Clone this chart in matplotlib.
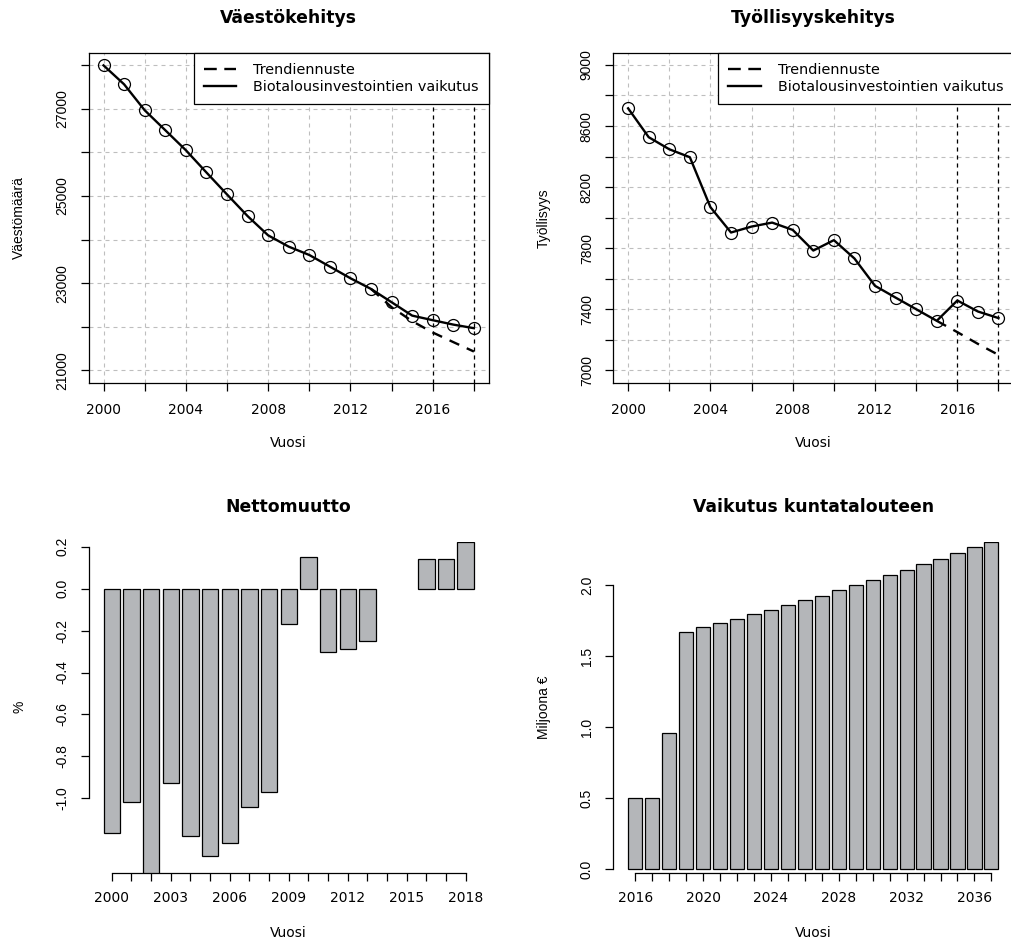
import matplotlib
matplotlib.use('Agg')
import matplotlib.pyplot as plt
from matplotlib.lines import Line2D
import numpy as np

# ---------------- data ----------------
years_pop = list(range(2000, 2019))
population = [27990, 27556, 26962, 26505, 26047, 25537, 25034, 24538, 24096, 23837,
              23646, 23380, 23113, 22868, 22564, 22257, 22152, 22051, 21969]
trend_years_pop = [2013, 2014, 2015, 2016, 2017, 2018]
trend_pop = [22868, 22450, 22130, 21870, 21650, 21434]

years_emp = list(range(2000, 2019))
employment = [8716, 8527, 8448, 8396, 8069, 7903, 7942, 7968, 7920, 7785,
              7853, 7733, 7554, 7477, 7401, 7325, 7458, 7386, 7343]
trend_years_emp = [2015, 2016, 2017, 2018]
trend_emp = [7325, 7251, 7174, 7102]

marker_years = [2016, 2018]

net_years = list(range(2000, 2019))
net_migration = [-1.164, -1.019, -1.45, -0.925, -1.180, -1.273, -1.215, -1.040, -0.968, -0.169,
                 0.153, -0.300, -0.288, -0.251, None, None, 0.141, 0.141, 0.224]

fin_years = list(range(2016, 2038))
fin_effect = [0.50, 0.50, 0.961, 1.669, 1.702, 1.733, 1.763, 1.794, 1.826, 1.859, 1.892,
              1.925, 1.962, 1.998, 2.033, 2.068, 2.105, 2.145, 2.185, 2.225, 2.265, 2.305]

legend_labels = ['Trendiennuste', 'Biotalousinvestointien vaikutus']

# ---------------- style ----------------
W, H = 1011, 940
fig = plt.figure(figsize=(W / 100, H / 100), dpi=100)
HF = 'DejaVu Sans'        # horizontal text
VF = 'Liberation Sans'    # rotated text
FS = 10
LEG_FS = 10.4
BAR_COL = '#b4b6b9'
GRID_COL = '#bebebe'


def rect(x0, y0, x1, y1):
    return [x0 / W, 1 - y1 / H, (x1 - x0) / W, (y1 - y0) / H]


def common_text(ax, title, xlabel, ylabel, xlab_y, height):
    ax.set_title(title, fontsize=12.4, fontweight='bold', family=HF,
                 y=1 + 35 / height, va='center', pad=0)
    ax.set_xlabel(xlabel, fontsize=FS, family=HF, va='center')
    ax.xaxis.set_label_coords(0.5, xlab_y)
    ax.set_ylabel(ylabel, fontsize=FS, family=VF, va='center')
    ax.yaxis.set_label_coords(-0.174, 0.5)


def line_panel(ax, years, vals, tyears, tvals, ylim, yticks, ylabels_shown, title, ylabel):
    x0, x1 = min(years), max(years)
    ext = 0.04 * (x1 - x0)
    ax.set_xlim(x0 - ext, x1 + ext)
    ax.set_ylim(*ylim)
    xt = list(range(x0, x1 + 1, 2))
    ax.set_xticks(xt)
    ax.set_xticklabels([str(v) if (v - x0) % 4 == 0 and v != x1 else '' for v in xt])
    ax.set_yticks(yticks)
    ax.set_yticklabels([str(v) if v in ylabels_shown else '' for v in yticks])
    # grid
    for v in xt:
        ax.axvline(v, color=GRID_COL, lw=0.8, dashes=(3.6, 3.6), zorder=1)
    for v in yticks:
        ax.axhline(v, color=GRID_COL, lw=0.8, dashes=(3.6, 3.6), zorder=1)
    for v in marker_years:
        ax.axvline(v, color='black', lw=0.9, dashes=(3.2, 3.2), zorder=2)
    ax.plot(tyears, tvals, color='black', lw=1.7, dashes=(4.5, 3.5), zorder=3)
    ax.plot(years, vals, color='black', lw=1.7, marker='o', ms=8.6,
            mfc='none', mec='black', mew=0.9, zorder=4)
    handles = [Line2D([], [], color='black', lw=1.7, dashes=(5.4, 3.2)),
               Line2D([], [], color='black', lw=1.7)]
    leg = ax.legend(handles, legend_labels, loc='upper right', frameon=True, fancybox=False,
                    framealpha=1, edgecolor='black', borderaxespad=0, handlelength=2.26,
                    handletextpad=1.15, labelspacing=0.24, borderpad=0.7,
                    prop={'family': HF, 'size': LEG_FS})
    leg.get_frame().set_linewidth(0.9)
    leg.set_zorder(10)
    for s in ax.spines.values():
        s.set_linewidth(0.9)
    ax.tick_params(axis='x', length=5.5, width=0.9, pad=9, labelsize=FS, labelfontfamily=HF)
    ax.tick_params(axis='y', length=5.5, width=0.9, pad=8.5, labelsize=FS,
                   labelfontfamily=VF, labelrotation=90)
    plt.setp(ax.get_yticklabels(), va='center')
    common_text(ax, title, 'Vuosi', ylabel, -(443 - 382.7) / 330, 330)


def bar_panel(ax, years, vals, ylim, yticks, ytick_labels, label_step, title, ylabel):
    n = len(years)
    centers = np.array([0.7 + 1.2 * i for i in range(n)])
    left, right = 0.2, 0.2 + 1.2 * n - 0.2
    ext = 0.04 * (right - left)
    ax.set_xlim(left - ext, right + ext)
    ax.set_ylim(*ylim)
    xs = [c for c, v in zip(centers, vals) if v is not None]
    hs = [v for v in vals if v is not None]
    ax.bar(xs, hs, width=1.0, color=BAR_COL, edgecolor='black', linewidth=0.9, zorder=2)
    ax.set_xticks(centers)
    ax.set_xticklabels([str(y) if i % label_step == 0 else '' for i, y in enumerate(years)])
    ax.set_yticks(yticks)
    ax.set_yticklabels(ytick_labels)
    for s in ['top', 'right']:
        ax.spines[s].set_visible(False)
    ax.spines['left'].set_bounds(yticks[0], yticks[-1])
    ax.spines['bottom'].set_bounds(centers[0], centers[-1])
    for s in ['left', 'bottom']:
        ax.spines[s].set_linewidth(0.9)
    ax.tick_params(axis='x', length=5.5, width=0.9, pad=7.5, labelsize=FS, labelfontfamily=HF)
    ax.tick_params(axis='y', length=5.5, width=0.9, pad=8.5, labelsize=FS,
                   labelfontfamily=VF, labelrotation=90)
    plt.setp(ax.get_yticklabels(), va='center')
    common_text(ax, title, 'Vuosi', ylabel, -(933 - 872.7) / 331, 331)


ax1 = fig.add_axes(rect(88.7, 52.7, 488.7, 382.7))
line_panel(ax1, years_pop, population, trend_years_pop, trend_pop,
           (20720, 28280), list(range(21000, 28001, 1000)), [21000, 23000, 25000, 27000],
           'Väestökehitys', 'Väestömäärä')

ax2 = fig.add_axes(rect(613.3, 52.7, 1013.3, 382.7))
line_panel(ax2, years_emp, employment, trend_years_emp, trend_emp,
           (6920, 9080), list(range(7000, 9001, 200)), [7000, 7400, 7800, 8200, 8600, 9000],
           'Työllisyyskehitys', 'Työllisyys')

ax3 = fig.add_axes(rect(88.7, 541.7, 488.7, 872.7))
net_ticks = [-1.0, -0.8, -0.6, -0.4, -0.2, 0.0, 0.2]
bar_panel(ax3, net_years, net_migration, (-1.355, max(v for v in net_migration if v is not None)),
          net_ticks, ['%.1f' % t for t in net_ticks], 3, 'Nettomuutto', '%')

ax4 = fig.add_axes(rect(613.3, 541.7, 1013.3, 872.7))
fin_ticks = [0.0, 0.5, 1.0, 1.5, 2.0]
bar_panel(ax4, fin_years, fin_effect, (-0.01 * max(fin_effect), max(fin_effect)),
          fin_ticks, ['%.1f' % t for t in fin_ticks], 4, 'Vaikutus kuntatalouteen', 'Miljoona €')

fig.savefig('out.png', dpi=100, facecolor='white')
